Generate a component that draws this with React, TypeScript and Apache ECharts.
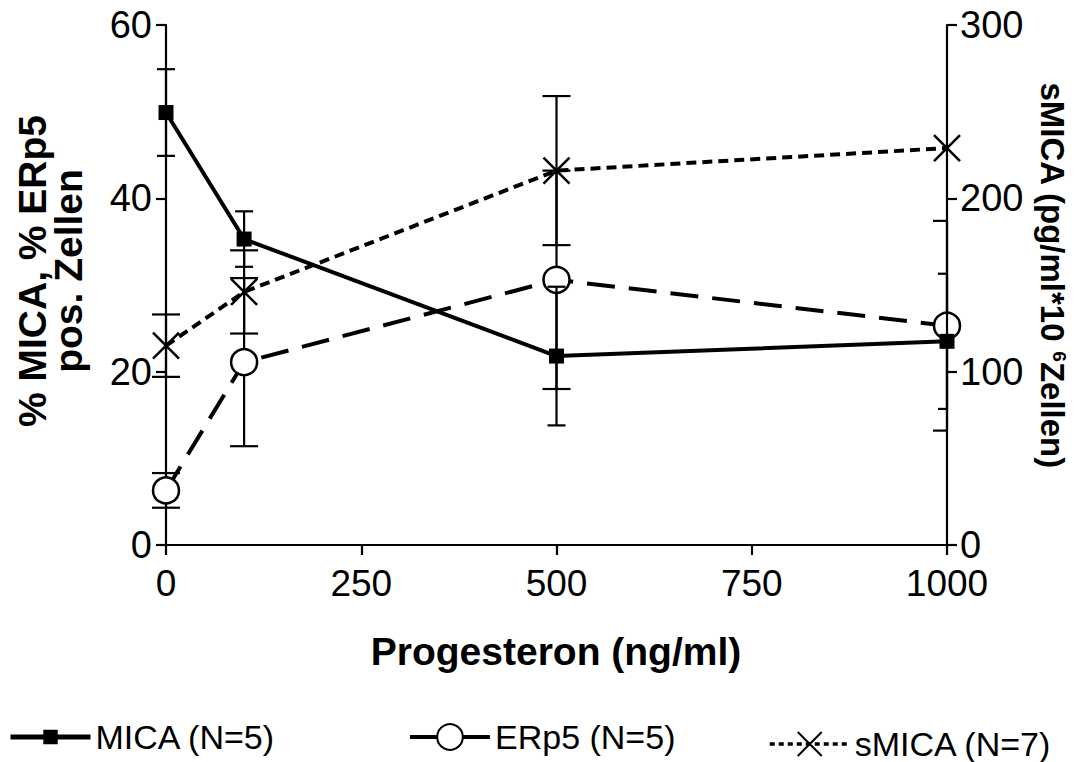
import React, { useEffect, useRef } from "react";
import * as echarts from "echarts";

// ---- data ----
const doses = [0, 100, 500, 1000];
const micaMean = [49.9, 35.3, 21.8, 23.5];
const micaErr = [5.0, 3.2, 8.0, 7.8];
const erp5Mean = [6.3, 21.1, 30.6, 25.3];
const erp5Err = [2.0, 9.7, 12.6, 12.1];
const smicaMean = [115, 146, 216, 229];
const smicaErr = [18, 24, 43, 0];

const seriesNames = ["MICA (N=5)", "ERp5 (N=5)", "sMICA (N=7)"];
const xTitle = "Progesteron (ng/ml)";
const leftTitle = "% MICA, % ERp5\npos. Zellen";

const FONT = "'Liberation Sans', Arial, Helvetica, sans-serif";
const X_PATH = "path://M0,0L10,10M10,0L0,10";

function errorBars(capHalf: number) {
  return (params: any, api: any) => {
    const x = api.value(0);
    const y = api.value(1);
    const e = api.value(2);
    if (!e) return null;
    const top = api.coord([x, y + e]);
    const bot = api.coord([x, y - e]);
    const cs = params.coordSys;
    const rightEdge = cs.x + cs.width;
    const cx = top[0];
    const x1 = cx - capHalf;
    const x2 = Math.min(cx + capHalf, rightEdge);
    const style = { stroke: "#000", lineWidth: 2.2, fill: "none" };
    return {
      type: "group",
      children: [
        { type: "line", shape: { x1: cx, y1: top[1], x2: cx, y2: bot[1] }, style },
        { type: "line", shape: { x1, y1: top[1], x2, y2: top[1] }, style },
        { type: "line", shape: { x1, y1: bot[1], x2, y2: bot[1] }, style },
      ],
    };
  };
}

export default function App() {
  const ref = useRef<HTMLDivElement>(null);
  useEffect(() => {
    if (!ref.current) return;
    const chart = echarts.init(ref.current, undefined, { renderer: "svg" });
    const pairs = (m: number[], e?: number[]) =>
      doses.map((d, i) => (e ? [d, m[i], e[i]] : [d, m[i]]));
    const axisCommon = {
      axisLine: { show: true, lineStyle: { color: "#000", width: 2.2 } },
      axisTick: { show: true, inside: false, length: 10, lineStyle: { color: "#000", width: 2.2 } },
      splitLine: { show: false },
      axisLabel: {
        color: "#000",
        fontSize: 38,
        fontFamily: FONT,
        formatter: (v: number) => String(v),
      },
    };
    const legendCommon = {
      orient: "horizontal",
      padding: 0,
      itemGap: 0,
      textStyle: { color: "#000", fontSize: 34, fontFamily: FONT },
      itemWidth: 80,
    };
    chart.setOption({
      animation: false,
      backgroundColor: "#fff",
      grid: { left: 166, right: 134, top: 25, bottom: 217, containLabel: false },
      xAxis: {
        type: "value",
        min: 0,
        max: 1000,
        interval: 250,
        ...axisCommon,
        axisLabel: { ...axisCommon.axisLabel, fontSize: 37, margin: 20 },
      },
      yAxis: [
        {
          type: "value",
          position: "left",
          min: 0,
          max: 60,
          interval: 20,
          ...axisCommon,
          axisLabel: { ...axisCommon.axisLabel, margin: 14 },
        },
        {
          type: "value",
          position: "right",
          min: 0,
          max: 300,
          interval: 100,
          ...axisCommon,
          axisLabel: { ...axisCommon.axisLabel, margin: 13 },
        },
      ],
      legend: [
        {
          ...legendCommon,
          data: [seriesNames[0]],
          left: 8,
          top: 720,
          itemHeight: 18,
          lineStyle: { width: 5 },
        },
        {
          ...legendCommon,
          data: [seriesNames[1]],
          left: 408,
          top: 720,
          itemHeight: 32,
          lineStyle: { width: 4, type: "solid" },
        },
        {
          ...legendCommon,
          data: [seriesNames[2]],
          left: 768,
          top: 727,
          itemHeight: 30,
          lineStyle: { width: 3.5, type: [5, 4] },
        },
      ],
      graphic: [
        {
          type: "text",
          x: 50,
          y: 271,
          rotation: Math.PI / 2,
          style: {
            text: leftTitle,
            font: `bold 39px ${FONT}`,
            fill: "#000",
            align: "center",
            verticalAlign: "middle",
            lineHeight: 36,
          },
        },
        {
          type: "text",
          x: 1052,
          y: 275,
          rotation: -Math.PI / 2,
          style: {
            text: "sMICA (pg/ml*10 {sup|6}Zellen)",
            font: `bold 33px ${FONT}`,
            fill: "#000",
            align: "center",
            verticalAlign: "middle",
            rich: {
              sup: { fontSize: 19, fontWeight: "bold", fontFamily: FONT, verticalAlign: "top", padding: [0, 0, 13, 0] },
            },
          },
        },
        {
          type: "text",
          x: 556,
          y: 651,
          style: {
            text: xTitle,
            font: `bold 39px ${FONT}`,
            fill: "#000",
            align: "center",
            verticalAlign: "middle",
          },
        },
      ],
      series: [
        {
          type: "custom",
          name: "ERp5 err",
          yAxisIndex: 0,
          z: 1,
          clip: false,
          renderItem: errorBars(14),
          data: pairs(erp5Mean, erp5Err),
          silent: true,
        },
        {
          type: "line",
          name: seriesNames[1],
          yAxisIndex: 0,
          z: 2,
          data: pairs(erp5Mean),
          symbol: "circle",
          symbolSize: 26,
          itemStyle: { color: "#fff", borderColor: "#000", borderWidth: 2.5 },
          lineStyle: { color: "#000", width: 4, type: [28, 14] },
        },
        {
          type: "custom",
          name: "MICA err",
          yAxisIndex: 0,
          z: 3,
          clip: false,
          renderItem: errorBars(9),
          data: pairs(micaMean, micaErr),
          silent: true,
        },
        {
          type: "line",
          name: seriesNames[0],
          yAxisIndex: 0,
          z: 4,
          data: pairs(micaMean),
          symbol: "rect",
          symbolSize: 15,
          itemStyle: { color: "#000", borderColor: "#000", borderWidth: 0 },
          lineStyle: { color: "#000", width: 4, type: "solid" },
        },
        {
          type: "custom",
          name: "sMICA err",
          yAxisIndex: 1,
          z: 3,
          clip: false,
          renderItem: errorBars(14),
          data: pairs(smicaMean, smicaErr),
          silent: true,
        },
        {
          type: "line",
          name: seriesNames[2],
          yAxisIndex: 1,
          z: 4,
          data: pairs(smicaMean),
          symbol: X_PATH,
          symbolSize: 26,
          itemStyle: { color: "none", borderColor: "#000", borderWidth: 2.5 },
          lineStyle: { color: "#000", width: 4, type: [10, 6] },
        },
      ],
    });
    return () => chart.dispose();
  }, []);
  return <div ref={ref} style={{ width: 1081, height: 762, position: "absolute", left: 0, top: 0 }} />;
}
